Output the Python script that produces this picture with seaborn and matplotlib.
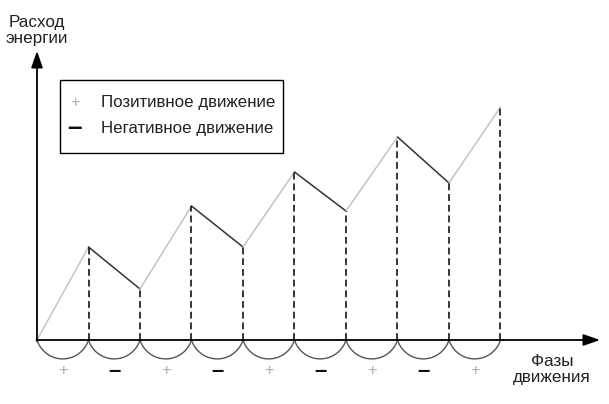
import numpy as np
import matplotlib
matplotlib.use('Agg')
import matplotlib.pyplot as plt
import seaborn as sns
from matplotlib.patches import Rectangle

# phases of movement and energy expenditure at the end of each phase
phases = [0, 1, 2, 3, 4, 5, 6, 7, 8, 9]
energy = [0, 93, 51, 134, 93, 168, 129, 203, 157, 233]
signs = ['+', '–', '+', '–', '+', '–', '+', '–', '+']

legend_labels = ['Позитивное движение', 'Негативное движение']
y_label = 'Расход\nэнергии'
x_label = 'Фазы\nдвижения'

pos_color = '#c4c4c4'
neg_color = '#333333'
U = 51.5  # pixels per phase

sns.set_style('white')
plt.rcParams['font.family'] = ['Liberation Sans', 'DejaVu Sans']

fig = plt.figure(figsize=(6.09, 4.04), dpi=100)
ax = fig.add_axes([0, 0, 1, 1])
ax.set_xlim(-37 / U, (609 - 37) / U)
ax.set_ylim(-64, 340)
ax.axis('off')

# zigzag: rising (positive) segments grey, falling (negative) dark
for i in range(len(phases) - 1):
    col = pos_color if energy[i + 1] > energy[i] else neg_color
    sns.lineplot(x=phases[i:i + 2], y=energy[i:i + 2], color=col, lw=1.1, ax=ax)

# dashed verticals from each vertex down to the axis
for p, e in zip(phases[1:], energy[1:]):
    ax.plot([p, p], [0, e], color='black', lw=1.1, ls=(0, (4.5, 2.5)))

# circular arcs under the x axis, one per phase
r = 27.0
a = np.arcsin(0.5 * U / r)
th = np.linspace(-a, a, 60)
for i in range(len(phases) - 1):
    xs = phases[i] + 0.5 + r * np.sin(th) / U
    ys = -(r * np.cos(th) - r * np.cos(a))
    ax.plot(xs, ys, color='#555555', lw=1.0)


def sign_text(x, y, s, size=16):
    if s == '+':
        ax.text(x, y, '+', color='#b0b0b0', fontsize=12, ha='center', va='center')
    else:
        ax.text(x, y, '–', color='#111111', fontsize=size, fontweight='bold',
                ha='center', va='center')


# + / − labels under each phase
for i, s in enumerate(signs):
    mid = (phases[i] + phases[i + 1]) / 2
    sign_text(mid, -30 if s == '+' else -31, s)

# axes with arrows
ax.annotate('', xy=(0, 289), xytext=(0, -1),
            arrowprops=dict(arrowstyle='-|>,head_length=1.0,head_width=0.35',
                            color='black', lw=1.3, shrinkA=0, shrinkB=0))
ax.annotate('', xy=(563 / U, 0), xytext=(-0.01, 0),
            arrowprops=dict(arrowstyle='-|>,head_length=1.0,head_width=0.35',
                            color='black', lw=1.3, shrinkA=0, shrinkB=0))

ax.text(0, 294, y_label, fontsize=12.3, ha='center', va='bottom', linespacing=1.1,
        color='#222222')
ax.text(10.0, -14, x_label, fontsize=12.3, ha='center', va='top', linespacing=1.05,
        color='#222222')

# legend box
ax.add_patch(Rectangle((23 / U, 340 - 153), 223 / U, 73, fill=False,
                       edgecolor='black', lw=1.0))
sign_text(38 / U, 340 - 102, '+')
sign_text(38 / U, 340 - 128, '–', size=19)
ax.text(64 / U, 340 - 102, legend_labels[0], fontsize=12.2, ha='left', va='center',
        color='#222222')
ax.text(64 / U, 340 - 129, legend_labels[1], fontsize=12.2, ha='left', va='center',
        color='#222222')

fig.savefig('out.png', dpi=100)
